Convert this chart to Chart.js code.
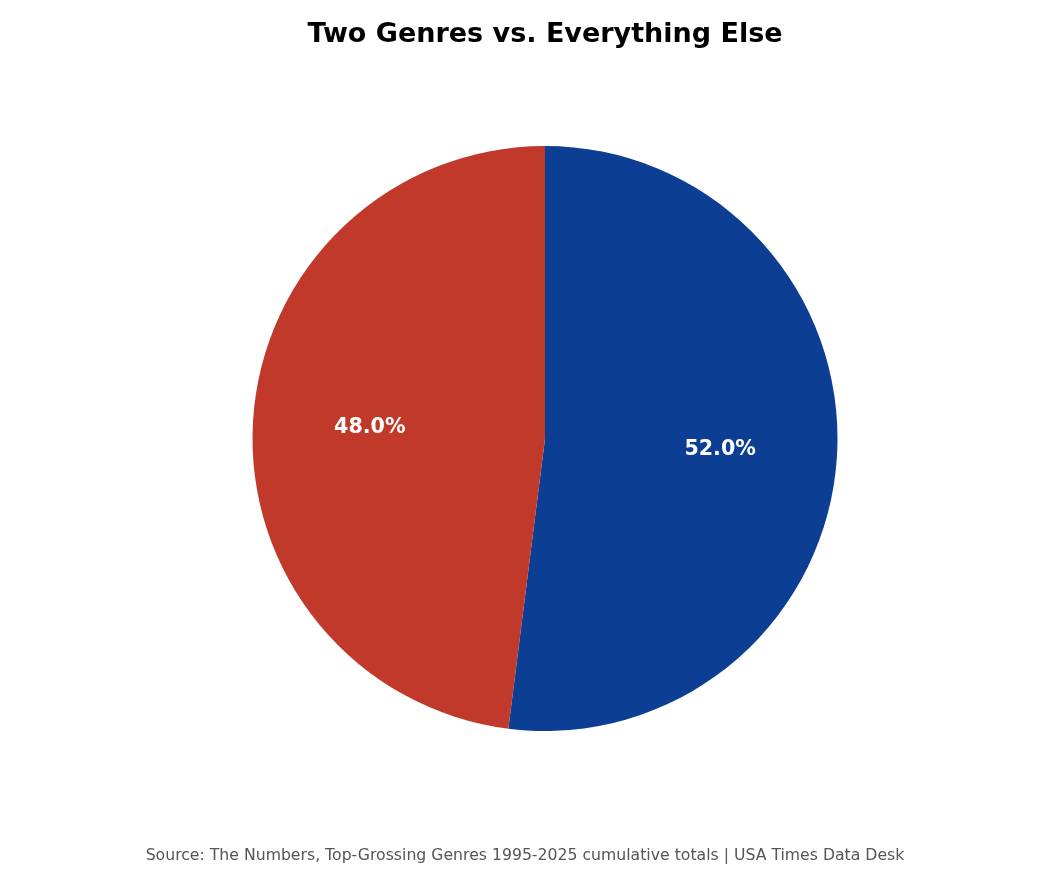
<!DOCTYPE html>
<html>
<head>
<meta charset="utf-8">
<script src="https://cdn.jsdelivr.net/npm/chart.js@4"></script>
<style>
  body { margin: 0; background: #fff; }
  canvas { display: block; }
</style>
</head>
<body>
<canvas id="chart1" width="1050" height="870"></canvas>
<script>
const genreLabels = ['Two Genres', 'Everything Else']
const genreShares = [52.0, 48.0]
const sliceColors = ['#0c3f93', '#c0392b']

const chartTitle = 'Two Genres vs. Everything Else'
const sourceNote = 'Source: The Numbers, Top-Grossing Genres 1995-2025 cumulative totals | USA Times Data Desk'

// percent labels at 60% of the radius, plus title and source line
const pieText = {
    id: 'pieText',
    afterDraw(chart) {
        const ctx = chart.ctx
        const total = genreShares.reduce((a, b) => a + b, 0)
        ctx.save()
        ctx.textAlign = 'center'
        ctx.textBaseline = 'middle'
        ctx.fillStyle = '#ffffff'
        ctx.font = 'bold 20.6px "DejaVu Sans"'
        chart.getDatasetMeta(0).data.forEach((arc, i) => {
            const p = arc.getProps(['x', 'y', 'startAngle', 'endAngle', 'outerRadius'], true)
            const mid = (p.startAngle + p.endAngle) / 2
            const r = p.outerRadius * 0.6
            const pct = (genreShares[i] / total * 100).toFixed(1) + '%'
            ctx.fillText(pct, p.x + Math.cos(mid) * r, p.y + Math.sin(mid) * r)
        })

        ctx.fillStyle = '#000000'
        ctx.font = 'bold 27px "DejaVu Sans"'
        ctx.fillText(chartTitle, 545, 35)

        ctx.fillStyle = '#555555'
        ctx.font = '15.7px "DejaVu Sans"'
        ctx.fillText(sourceNote, 525, 856)
        ctx.restore()
    }
}

const data = {
    labels: genreLabels,
    datasets: [{
        data: genreShares,
        backgroundColor: sliceColors,
        borderWidth: 0
    }]
}

const options = {
    responsive: false,
    devicePixelRatio: 1,
    animation: false,
    layout: {
        padding: { left: 40, right: 0, top: 146, bottom: 139 }
    },
    plugins: {
        legend: { display: false },
        tooltip: { enabled: false }
    }
}

new Chart('chart1', { type: 'pie', data, options, plugins: [pieText] })
</script>
</body>
</html>
